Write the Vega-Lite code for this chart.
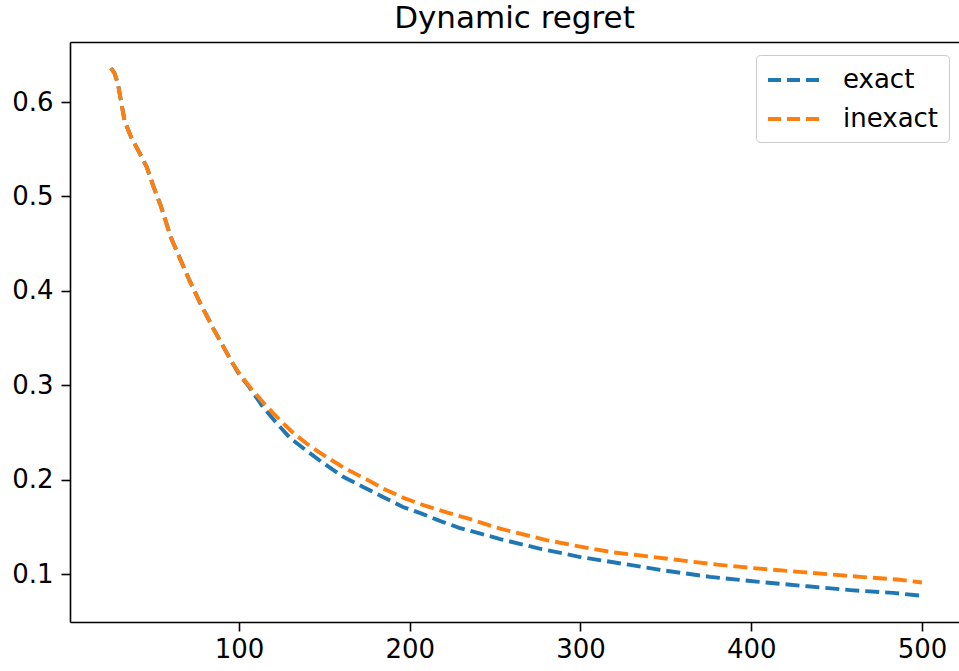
{
  "$schema": "https://vega.github.io/schema/vega-lite/v6.json",
  "autosize": {"type": "none"},
  "padding": {"left": 70, "top": 42, "right": 0, "bottom": 49},
  "width": 889,
  "height": 580,
  "title": {"text": "Dynamic regret", "font": "DejaVu Sans", "fontSize": 31, "fontWeight": "normal", "color": "black", "baseline": "alphabetic", "offset": 16, "dy": 33, "anchor": "middle", "frame": "group"},
  "config": {
    "view": {"stroke": null},
    "axis": {"grid": false, "title": null, "labelFont": "DejaVu Sans", "labelFontSize": 26, "labelColor": "black", "tickColor": "black", "tickSize": 9, "tickWidth": 1.6, "domainColor": "black", "domainWidth": 1.6}
  },
  "data": {"values": [
    {"t": 25, "regret": 0.636, "method": "exact"},
    {"t": 27, "regret": 0.631, "method": "exact"},
    {"t": 29, "regret": 0.620, "method": "exact"},
    {"t": 31, "regret": 0.600, "method": "exact"},
    {"t": 33, "regret": 0.580, "method": "exact"},
    {"t": 35, "regret": 0.571, "method": "exact"},
    {"t": 37, "regret": 0.562, "method": "exact"},
    {"t": 40, "regret": 0.552, "method": "exact"},
    {"t": 43, "regret": 0.542, "method": "exact"},
    {"t": 46, "regret": 0.531, "method": "exact"},
    {"t": 50, "regret": 0.510, "method": "exact"},
    {"t": 54, "regret": 0.491, "method": "exact"},
    {"t": 56, "regret": 0.480, "method": "exact"},
    {"t": 60, "regret": 0.457, "method": "exact"},
    {"t": 65, "regret": 0.436, "method": "exact"},
    {"t": 71, "regret": 0.411, "method": "exact"},
    {"t": 77, "regret": 0.388, "method": "exact"},
    {"t": 85, "regret": 0.360, "method": "exact"},
    {"t": 96, "regret": 0.324, "method": "exact"},
    {"t": 100, "regret": 0.312, "method": "exact"},
    {"t": 106, "regret": 0.298, "method": "exact"},
    {"t": 114, "regret": 0.277, "method": "exact"},
    {"t": 122, "regret": 0.260, "method": "exact"},
    {"t": 130, "regret": 0.244, "method": "exact"},
    {"t": 140, "regret": 0.230, "method": "exact"},
    {"t": 149, "regret": 0.218, "method": "exact"},
    {"t": 161, "regret": 0.203, "method": "exact"},
    {"t": 173, "regret": 0.192, "method": "exact"},
    {"t": 184, "regret": 0.182, "method": "exact"},
    {"t": 196, "regret": 0.171, "method": "exact"},
    {"t": 207, "regret": 0.164, "method": "exact"},
    {"t": 218, "regret": 0.156, "method": "exact"},
    {"t": 229, "regret": 0.149, "method": "exact"},
    {"t": 253, "regret": 0.137, "method": "exact"},
    {"t": 276, "regret": 0.127, "method": "exact"},
    {"t": 300, "regret": 0.118, "method": "exact"},
    {"t": 321, "regret": 0.112, "method": "exact"},
    {"t": 348, "regret": 0.104, "method": "exact"},
    {"t": 376, "regret": 0.097, "method": "exact"},
    {"t": 403, "regret": 0.092, "method": "exact"},
    {"t": 433, "regret": 0.087, "method": "exact"},
    {"t": 458, "regret": 0.083, "method": "exact"},
    {"t": 483, "regret": 0.080, "method": "exact"},
    {"t": 500, "regret": 0.077, "method": "exact"},
    {"t": 25, "regret": 0.636, "method": "inexact"},
    {"t": 27, "regret": 0.631, "method": "inexact"},
    {"t": 29, "regret": 0.620, "method": "inexact"},
    {"t": 31, "regret": 0.600, "method": "inexact"},
    {"t": 33, "regret": 0.580, "method": "inexact"},
    {"t": 35, "regret": 0.571, "method": "inexact"},
    {"t": 37, "regret": 0.562, "method": "inexact"},
    {"t": 40, "regret": 0.552, "method": "inexact"},
    {"t": 43, "regret": 0.542, "method": "inexact"},
    {"t": 46, "regret": 0.531, "method": "inexact"},
    {"t": 50, "regret": 0.510, "method": "inexact"},
    {"t": 54, "regret": 0.491, "method": "inexact"},
    {"t": 56, "regret": 0.480, "method": "inexact"},
    {"t": 60, "regret": 0.457, "method": "inexact"},
    {"t": 65, "regret": 0.436, "method": "inexact"},
    {"t": 71, "regret": 0.411, "method": "inexact"},
    {"t": 77, "regret": 0.388, "method": "inexact"},
    {"t": 85, "regret": 0.360, "method": "inexact"},
    {"t": 96, "regret": 0.324, "method": "inexact"},
    {"t": 100, "regret": 0.313, "method": "inexact"},
    {"t": 106, "regret": 0.299, "method": "inexact"},
    {"t": 115, "regret": 0.280, "method": "inexact"},
    {"t": 124, "regret": 0.263, "method": "inexact"},
    {"t": 132, "regret": 0.249, "method": "inexact"},
    {"t": 142, "regret": 0.235, "method": "inexact"},
    {"t": 153, "regret": 0.222, "method": "inexact"},
    {"t": 163, "regret": 0.211, "method": "inexact"},
    {"t": 175, "regret": 0.200, "method": "inexact"},
    {"t": 184, "regret": 0.191, "method": "inexact"},
    {"t": 196, "regret": 0.181, "method": "inexact"},
    {"t": 208, "regret": 0.173, "method": "inexact"},
    {"t": 222, "regret": 0.165, "method": "inexact"},
    {"t": 234, "regret": 0.159, "method": "inexact"},
    {"t": 253, "regret": 0.148, "method": "inexact"},
    {"t": 280, "regret": 0.136, "method": "inexact"},
    {"t": 300, "regret": 0.129, "method": "inexact"},
    {"t": 319, "regret": 0.123, "method": "inexact"},
    {"t": 352, "regret": 0.116, "method": "inexact"},
    {"t": 380, "regret": 0.110, "method": "inexact"},
    {"t": 403, "regret": 0.106, "method": "inexact"},
    {"t": 430, "regret": 0.102, "method": "inexact"},
    {"t": 464, "regret": 0.097, "method": "inexact"},
    {"t": 487, "regret": 0.094, "method": "inexact"},
    {"t": 500, "regret": 0.091, "method": "inexact"}
  ]},
  "layer": [
    {
      "mark": {"type": "line", "strokeWidth": 3.9, "strokeDash": [14, 6]},
      "encoding": {
        "x": {"field": "t", "type": "quantitative", "scale": {"domain": [1.02, 521.7], "nice": false, "zero": false}, "axis": {"orient": "bottom", "values": [100, 200, 300, 400, 500], "labelPadding": 5}},
        "y": {"field": "regret", "type": "quantitative", "scale": {"domain": [0.0492, 0.6636], "nice": false, "zero": false}, "axis": {"orient": "left", "values": [0.1, 0.2, 0.3, 0.4, 0.5, 0.6], "format": ".1f", "labelPadding": 8}},
        "color": {"field": "method", "type": "nominal", "scale": {"domain": ["exact", "inexact"], "range": ["#1f77b4", "#ff7f0e"]},
          "legend": {"orient": "none", "legendX": 686, "legendY": 13, "title": null, "symbolType": "M-1,0H3", "symbolSize": 676, "symbolStrokeWidth": 3.9, "symbolDash": [13, 6], "labelFont": "DejaVu Sans", "labelFontSize": 26, "labelColor": "black", "padding": 10, "rowPadding": 11, "labelOffset": 47, "fillColor": "white", "strokeColor": "#cccccc", "cornerRadius": 4}}
      }
    },
    {
      "mark": {"type": "line", "opacity": 0},
      "encoding": {
        "x": {"field": "t", "type": "quantitative", "axis": {"orient": "top", "labels": false, "ticks": false, "domain": true}},
        "y": {"field": "regret", "type": "quantitative"}
      }
    }
  ],
  "resolve": {"axis": {"x": "independent"}}
}
